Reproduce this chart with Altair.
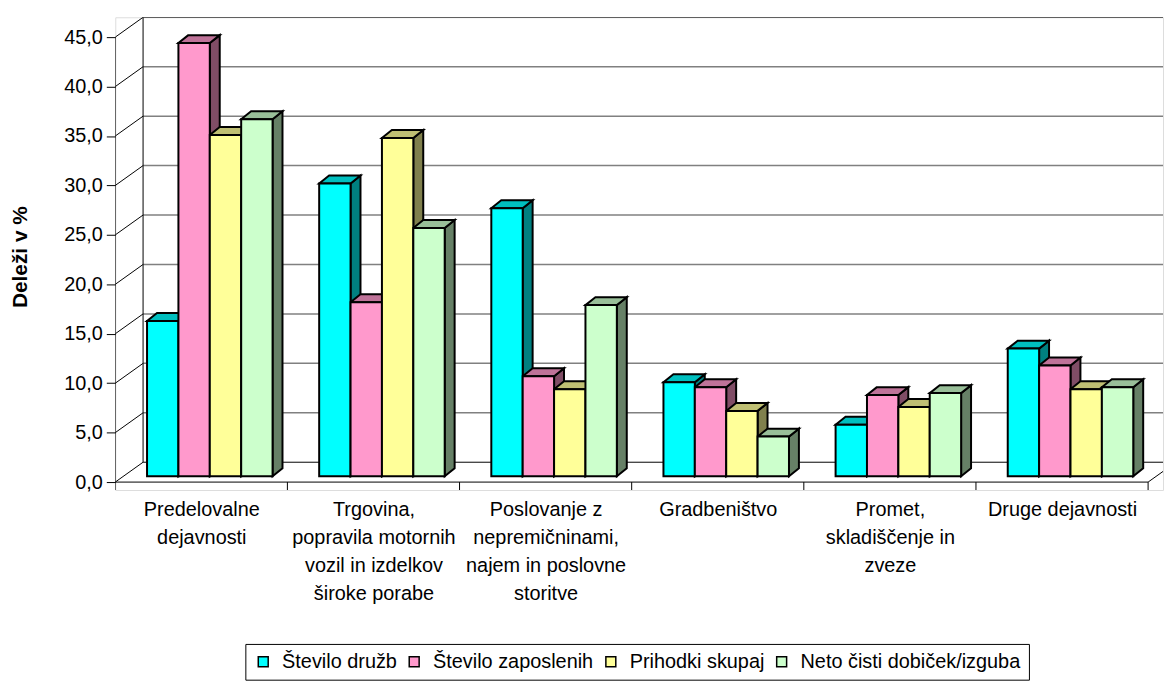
import json
import altair as alt
import pandas as pd

# ---------------- data ----------------
cat_lines = [
    ["Predelovalne", "dejavnosti"],
    ["Trgovina,", "popravila motornih", "vozil in izdelkov", "široke porabe"],
    ["Poslovanje z", "nepremičninami,", "najem in poslovne", "storitve"],
    ["Gradbeništvo"],
    ["Promet,", "skladiščenje in", "zveze"],
    ["Druge dejavnosti"],
]
series = ["Število družb", "Število zaposlenih", "Prihodki skupaj", "Neto čisti dobiček/izguba"]
stevilo_druzb = [15.7, 29.6, 27.1, 9.5, 5.2, 12.9]
stevilo_zaposlenih = [43.8, 17.6, 10.1, 9.0, 8.2, 11.2]
prihodki_skupaj = [34.5, 34.2, 8.8, 6.6, 7.0, 8.8]
neto_dobicek = [36.1, 25.1, 17.3, 4.0, 8.4, 9.0]
y_ticks = [0, 5, 10, 15, 20, 25, 30, 35, 40, 45]
y_title = "Deleži v %"

values = [stevilo_druzb, stevilo_zaposlenih, prihodki_skupaj, neto_dobicek]

# ---------------- styles ----------------
front_colors = ["#00FFFF", "#FF99CC", "#FFFF99", "#CCFFCC"]
top_colors = ["#00BFBF", "#BF7399", "#BFBF73", "#99BF99"]
side_colors = ["#008080", "#804D66", "#80804D", "#668066"]
FONT = "Liberation Sans"

# ---------------- geometry (3D look) ----------------
PX_PER_CAT = 173.33
PX_PER_UNIT = 9.956
W = 1055
H = 476
XMAX = W / PX_PER_CAT
YMIN = -0.8
YMAX = YMIN + H / PX_PER_UNIT
DX = 28 / PX_PER_CAT      # wall depth (x)
DY = 20 / PX_PER_UNIT     # wall depth (y)
G0 = 0.1846               # group start within category
BW = 0.1823               # bar width
B0 = 0.6                  # bar base lift (depth placement)
TDX = 10 / PX_PER_CAT     # bar depth (x)
TDY = 8 / PX_PER_UNIT     # bar depth (y)
NCAT = len(cat_lines)

fronts, tops, sides = [], [], []
for s, name in enumerate(series):
    for i, v in enumerate(values[s]):
        key = f"{s}-{i}"
        x0 = i + G0 + s * BW
        x1 = x0 + BW
        fronts.append(dict(key=key, series=name, x0=x0, x1=x1, y0=B0, y1=v + B0, val=v))
        tops.append(dict(key=key, series=name, y=v + B0, x=x0, x2=x1))
        tops.append(dict(key=key, series=name, y=v + B0 + TDY, x=x0 + TDX, x2=x1 + TDX))
        sides.append(dict(key=key, series=name, x=x1, y=B0, y2=v + B0))
        sides.append(dict(key=key, series=name, x=x1 + TDX, y=B0 + TDY, y2=v + B0 + TDY))

black_segs = []
for v in y_ticks:  # left wall diagonals
    black_segs.append(dict(x=0, y=v, x2=DX, y2=v + DY))
black_segs.append(dict(x=0, y=0, x2=0, y2=y_ticks[-1]))                 # front vertical
black_segs.append(dict(x=DX, y=DY, x2=DX, y2=y_ticks[-1] + DY))          # back vertical
black_segs.append(dict(x=DX, y=y_ticks[-1] + DY, x2=NCAT + DX, y2=y_ticks[-1] + DY))  # wall top
black_segs.append(dict(x=DX, y=DY, x2=NCAT + DX, y2=DY))                 # floor back edge
black_segs.append(dict(x=0, y=0, x2=NCAT, y2=0))                         # floor front edge
black_segs.append(dict(x=NCAT, y=0, x2=NCAT + DX, y2=DY))                # floor right edge
for k in range(NCAT + 1):  # category ticks
    black_segs.append(dict(x=k, y=0, x2=k, y2=YMIN))
gray_segs = [dict(x=DX, y=v + DY, x2=NCAT + DX, y2=v + DY) for v in y_ticks[1:-1]]

df_f = pd.DataFrame(fronts)
df_t = pd.DataFrame(tops)
df_s = pd.DataFrame(sides)
df_b = pd.DataFrame(black_segs)
df_g = pd.DataFrame(gray_segs)

xs = alt.Scale(domain=[0, XMAX], nice=False, zero=False)
ys = alt.Scale(domain=[YMIN, YMAX], nice=False, zero=False)

label_expr = json.dumps(cat_lines, ensure_ascii=False) + "[floor(datum.value)]"

x_axis = alt.Axis(
    values=[k + 0.5 for k in range(NCAT)], labelExpr=label_expr, ticks=False, domain=False,
    grid=False, labelFontSize=20, labelLineHeight=28, labelPadding=10,
    labelBaseline="top", labelColor="black", labelOverlap=False, labelFlush=False,
    labelFont=FONT, labelBound=False, labelLimit=400)
y_axis = alt.Axis(
    values=y_ticks, labelExpr="replace(format(datum.value, '.1f'), '.', ',')",
    grid=False, domain=False, tickSize=9, tickColor="black", tickWidth=1,
    labelPadding=4, labelFontSize=20, labelColor="black", labelFont=FONT,
    titleFontSize=21, titleFontWeight="bold", titleColor="black",
    titleFont=FONT, titleX=-95, titleY=241, titleAlign="center", titleBaseline="middle",
    titleAngle=270, labelOverlap=False, labelFlush=False)


def X(field):
    return alt.X(field, scale=xs, axis=x_axis, title=None)


def Y(field):
    return alt.Y(field, scale=ys, axis=y_axis, title=y_title)


gray = alt.Chart(df_g).mark_rule(color="#808080", strokeWidth=1.5, clip=True).encode(
    x=X("x:Q"), x2="x2:Q", y=Y("y:Q"), y2="y2:Q")
black = alt.Chart(df_b).mark_rule(color="black", strokeWidth=1, clip=True).encode(
    x=X("x:Q"), x2="x2:Q", y=Y("y:Q"), y2="y2:Q")

side_layer = alt.Chart(df_s).mark_area(orient="vertical", stroke="black", strokeWidth=2,
                                       strokeJoin="miter", opacity=1).encode(
    x=X("x:Q"), y=Y("y:Q"), y2="y2:Q",
    detail="key:N",
    color=alt.Color("series:N", scale=alt.Scale(domain=series, range=side_colors), legend=None))

top_layer = alt.Chart(df_t).mark_area(orient="horizontal", stroke="black", strokeWidth=2,
                                      strokeJoin="miter", opacity=1).encode(
    y=Y("y:Q"), x=X("x:Q"), x2="x2:Q",
    detail="key:N",
    color=alt.Color("series:N", scale=alt.Scale(domain=series, range=top_colors), legend=None))

front_layer = alt.Chart(df_f).mark_rect(stroke="black", strokeWidth=2, opacity=1).encode(
    x=X("x0:Q"), x2="x1:Q", y=Y("y0:Q"), y2="y1:Q",
    color=alt.Color("series:N", scale=alt.Scale(domain=series, range=front_colors),
                    legend=alt.Legend(
                        orient="none", legendX=131, legendY=631, direction="horizontal",
                        title=None, symbolType="square", symbolSize=100,
                        symbolStrokeColor="black", symbolStrokeWidth=1.5,
                        labelFontSize=20, labelFont=FONT, labelColor="black", labelLimit=400,
                        strokeColor="black", fillColor="white", padding=8,
                        columnPadding=7, labelOffset=9)),
)

chart = alt.layer(gray, black, side_layer, top_layer, front_layer).resolve_scale(
    color="independent"
).properties(
    width=W, height=H,
    autosize=alt.AutoSizeParams(type="none"),
    padding={"left": 108, "top": 7, "right": 2, "bottom": 192},
    background="white",
).configure_view(strokeWidth=0).configure_axis(grid=False).configure(font=FONT)

chart.save("out.html", embed_options={"renderer": "svg", "actions": False})
